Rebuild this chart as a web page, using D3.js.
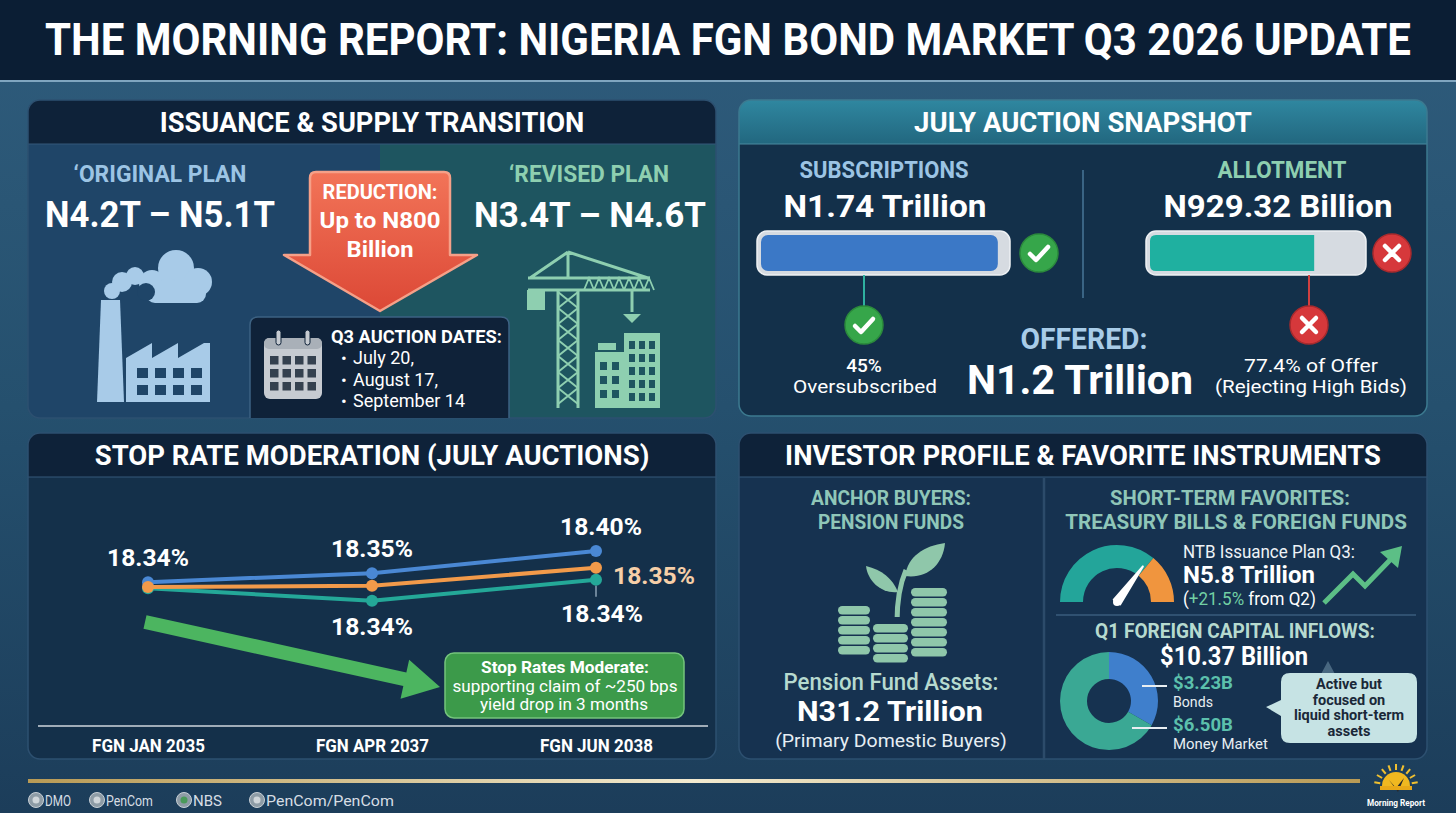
<!DOCTYPE html>
<html>
<head>
<meta charset="utf-8">
<script src="https://cdn.jsdelivr.net/npm/d3@7"></script>
<style>
  body { margin: 0; background: #1e3f5c; }
  svg { display: block; }
</style>
</head>
<body>
<div id="chart"></div>
<script>
// ---- data ----
const bondNames = ['FGN JAN 2035', 'FGN APR 2037', 'FGN JUN 2038'];
const stopRateBlue = [18.348, 18.363, 18.400];
const stopRateOrange = [18.340, 18.342, 18.372];
const stopRateTeal = [18.338, 18.317, 18.352];
const blueLabels = ['18.34%', '18.35%', '18.40%'];
const orangeLabels = ['', '', '18.35%'];
const tealLabels = ['', '18.34%', '18.34%'];

const auctionOffered = 1.2;      // N trillion
const auctionSubscribed = 1.74;  // N trillion
const auctionAllotted = 0.92932; // N trillion
const auctionDates = ['July 20,', 'August 17,', 'September 14'];

const ntbGauge = [0.72, 0.28];
const ntbNeedle = 0.70;
const inflowLabels = ['Bonds', 'Money Market'];
const inflowValues = [3.23, 6.50];
const inflowText = ['$3.23B', '$6.50B'];
const sources = ['DMO', 'PenCom', 'NBS', 'PenCom/PenCom'];

const W = 1456;
const H = 813;
const mint = '#8ecfb0';
const paleBlue = '#a8cbe8';

const svg = d3.select('#chart').append('svg')
  .attr('width', W)
  .attr('height', H)
  .style('font-family', 'Roboto, "Noto Sans", sans-serif');

const defs = svg.append('defs');

function linGrad(id, stops, vertical) {
  const g = defs.append('linearGradient').attr('id', id)
    .attr('x1', 0).attr('y1', 0).attr('x2', vertical ? 0 : 1).attr('y2', vertical ? 1 : 0);
  stops.forEach((s) => g.append('stop').attr('offset', s[0]).attr('stop-color', s[1]));
}
linGrad('bg', [[0, '#2f5c7c'], [0.5, '#25506e'], [1, '#1c3d5a']], true);
linGrad('redArrow', [[0, '#f27458'], [1, '#dc4836']], true);
linGrad('tealHead', [[0, '#2f87a0'], [1, '#22677f']], true);
linGrad('gold', [[0, '#b89a55'], [0.5, '#f2ead0'], [1, '#b89a55']], false);

// squeeze a text to the width measured on the reference (condensed look)
function fit(t, w) {
  const len = t.node().getComputedTextLength();
  if (!len) return t;
  const x0 = +t.attr('x'), y0 = +t.attr('y');
  t.attr('x', 0).attr('y', 0)
    .attr('transform', `translate(${x0},${y0}) scale(${(w / len).toFixed(4)},1)`);
  return t;
}

function txt(g, x, y, s, o) {
  const t = g.append('text')
    .attr('x', x).attr('y', y)
    .attr('font-size', o.size)
    .attr('font-weight', o.weight || 700)
    .attr('fill', o.fill || '#fff')
    .attr('text-anchor', o.anchor || 'middle')
    .text(s);
  if (o.w && s) fit(t, o.w);
  return t;
}

// ---- background + title ----
svg.append('rect').attr('width', W).attr('height', H).attr('fill', 'url(#bg)');
svg.append('rect').attr('width', W).attr('height', 80).attr('fill', '#0b1e34');
svg.append('line').attr('x1', 0).attr('x2', W).attr('y1', 81).attr('y2', 81)
  .attr('stroke', '#9cc0d8').attr('stroke-width', 1.5);
txt(svg, 728, 55, 'THE MORNING REPORT: NIGERIA FGN BOND MARKET Q3 2026 UPDATE', { size: 44, w: 1366 });

// ---- panels ----
let clipN = 0;
function panel(x, y, w, h, title, titleW, headFill, bodyFill, stroke) {
  const id = 'clip' + (clipN++);
  defs.append('clipPath').attr('id', id)
    .append('rect').attr('x', x).attr('y', y).attr('width', w).attr('height', h).attr('rx', 12);
  const g = svg.append('g');
  const inner = g.append('g').attr('clip-path', 'url(#' + id + ')');
  inner.append('rect').attr('x', x).attr('y', y).attr('width', w).attr('height', h).attr('fill', bodyFill);
  inner.append('rect').attr('x', x).attr('y', y).attr('width', w).attr('height', 44).attr('fill', headFill);
  g.append('rect').attr('x', x).attr('y', y).attr('width', w).attr('height', h).attr('rx', 12)
    .attr('fill', 'none').attr('stroke', stroke).attr('stroke-width', 1.5);
  txt(g, x + w / 2, y + 32, title, { size: 28, w: titleW });
  return { g, inner };
}

// ================= ISSUANCE & SUPPLY TRANSITION =================
const p1 = panel(28, 100, 688, 318, 'ISSUANCE & SUPPLY TRANSITION', 425, '#0e2239', '#1f4568', '#2d5070');
p1.inner.append('rect').attr('x', 380).attr('y', 144).attr('width', 336).attr('height', 274).attr('fill', '#1e5560');
p1.inner.append('line').attr('x1', 28).attr('x2', 716).attr('y1', 144).attr('y2', 144).attr('stroke', '#35597a');
const g1 = p1.g;

txt(g1, 160, 182, '\u2018ORIGINAL PLAN', { size: 24, fill: '#9cc4e4', w: 173 });
txt(g1, 160, 227, 'N4.2T \u2013 N5.1T', { size: 36, w: 230 });
txt(g1, 589, 182, '\u2018REVISED PLAN', { size: 24, fill: mint, w: 160 });
txt(g1, 590, 227, 'N3.4T \u2013 N4.6T', { size: 36, w: 232 });

// factory icon
const fac = g1.append('g').attr('fill', paleBlue);
fac.append('path').attr('d', 'M97,402 L101,300 L120,300 L124,402 Z');
fac.append('path').attr('d', 'M126,402 L126,358 L152,343 L152,358 L178,343 L178,358 L204,343 L210,343 L210,402 Z');
[[112, 291, 8], [122, 282, 10], [135, 276, 9]].forEach((c) =>
  fac.append('circle').attr('cx', c[0]).attr('cy', c[1]).attr('r', c[2]));
[[152, 283, 13], [176, 268, 18], [198, 282, 14], [168, 290, 12]].forEach((c) =>
  fac.append('circle').attr('cx', c[0]).attr('cy', c[1]).attr('r', c[2]));
fac.append('rect').attr('x', 146).attr('y', 283).attr('width', 60).attr('height', 20).attr('rx', 9);
g1.append('circle').attr('cx', 146).attr('cy', 292).attr('r', 9).attr('fill', '#1f4568');
for (let i = 0; i < 4; i++) {
  for (let j = 0; j < 2; j++) {
    g1.append('rect').attr('x', 137 + i * 18).attr('y', 368 + j * 17)
      .attr('width', 11).attr('height', 10).attr('fill', '#1f4568');
  }
}

// crane icon
const cr = g1.append('g').attr('stroke', mint).attr('fill', 'none').attr('stroke-width', 3);
cr.append('path').attr('d', 'M558,408 L558,289 M578,408 L578,289');
let brace = '';
for (let y = 292; y < 404; y += 16) brace += `M558,${y} L578,${y + 16} M578,${y} L558,${y + 16} `;
cr.append('path').attr('d', brace).attr('stroke-width', 2);
cr.append('path').attr('d', 'M528,278 L650,278 M528,290 L650,290 M568,252 L530,278 M568,252 L648,278 M568,252 L568,278');
let jib = '';
for (let x = 584; x < 646; x += 10) jib += `M${x},290 L${x + 5},278 L${x + 10},290 `;
cr.append('path').attr('d', jib).attr('stroke-width', 1.8);
cr.append('path').attr('d', 'M632,290 L632,312');
g1.append('rect').attr('x', 527).attr('y', 290).attr('width', 18).attr('height', 20).attr('fill', mint);
g1.append('path').attr('d', 'M623,314 L641,314 L632,323 Z').attr('fill', mint);
g1.append('rect').attr('x', 595).attr('y', 352).attr('width', 31).attr('height', 56).attr('fill', mint);
g1.append('rect').attr('x', 598).attr('y', 343).attr('width', 18).attr('height', 7).attr('fill', mint);
g1.append('rect').attr('x', 624).attr('y', 333).attr('width', 36).attr('height', 75).attr('fill', mint);
for (let i = 0; i < 2; i++) {
  for (let j = 0; j < 3; j++) {
    g1.append('rect').attr('x', 600 + i * 12).attr('y', 362 + j * 14).attr('width', 7).attr('height', 8).attr('fill', '#1e5560');
  }
}
for (let i = 0; i < 3; i++) {
  for (let j = 0; j < 5; j++) {
    g1.append('rect').attr('x', 629 + i * 10).attr('y', 341 + j * 13).attr('width', 6).attr('height', 8).attr('fill', '#1e5560');
  }
}

// red reduction arrow
g1.append('path')
  .attr('d', 'M316,172 L444,172 Q450,172 450,178 L450,255 L477,255 L380,311 L284,255 L310,255 L310,178 Q310,172 316,172 Z')
  .attr('fill', 'url(#redArrow)').attr('stroke', '#f5a088').attr('stroke-width', 2.5).attr('stroke-linejoin', 'round');
txt(g1, 380, 199, 'REDUCTION:', { size: 21, w: 115 });
txt(g1, 380, 228, 'Up to N800', { size: 22, w: 121 });
txt(g1, 380, 257, 'Billion', { size: 22, w: 67 });

// auction dates box
g1.append('path').attr('d', 'M250,418 L250,325 Q250,317 258,317 L501,317 Q509,317 509,325 L509,418')
  .attr('fill', '#0f2239').attr('stroke', '#3d6283').attr('stroke-width', 1.5);
const cal = g1.append('g');
cal.append('rect').attr('x', 264).attr('y', 338).attr('width', 58).attr('height', 61).attr('rx', 6).attr('fill', '#c6cbd1');
cal.append('rect').attr('x', 264).attr('y', 338).attr('width', 58).attr('height', 11).attr('rx', 5).attr('fill', '#a9b0b8');
[276, 305].forEach((x) => cal.append('rect').attr('x', x).attr('y', 330).attr('width', 5).attr('height', 15)
  .attr('rx', 2.5).attr('fill', '#c6cbd1').attr('stroke', '#0f2239').attr('stroke-width', 1));
for (let i = 0; i < 4; i++) {
  for (let j = 0; j < 3; j++) {
    cal.append('rect').attr('x', 270 + i * 12.5).attr('y', 356 + j * 13).attr('width', 8.5).attr('height', 8.5).attr('fill', '#34414f');
  }
}
txt(g1, 331, 343, 'Q3 AUCTION DATES:', { size: 19, anchor: 'start', w: 171 });
auctionDates.forEach((d, i) => {
  txt(g1, 341, 364 + i * 21.5, '\u2022', { size: 17, anchor: 'start', weight: 400 });
  txt(g1, 353, 364 + i * 21.5, d, { size: 18, anchor: 'start', weight: 400 });
});

// ================= JULY AUCTION SNAPSHOT =================
const p2 = panel(739, 100, 688, 316, 'JULY AUCTION SNAPSHOT', 338, 'url(#tealHead)', '#13304a', '#3c7a90');
p2.inner.append('line').attr('x1', 739).attr('x2', 1427).attr('y1', 144).attr('y2', 144).attr('stroke', '#4a8aa0');
const g2 = p2.g;

g2.append('line').attr('x1', 1083).attr('x2', 1083).attr('y1', 170).attr('y2', 298)
  .attr('stroke', '#3a6484').attr('stroke-width', 2);

txt(g2, 884, 178, 'SUBSCRIPTIONS', { size: 23, fill: '#9cc4e4', w: 169 });
txt(g2, 885, 217, 'N1.74 Trillion', { size: 32, w: 203 });
txt(g2, 1282, 178, 'ALLOTMENT', { size: 23, fill: mint, w: 129 });
txt(g2, 1278, 217, 'N929.32 Billion', { size: 32, w: 229 });

const subScale = d3.scaleLinear().domain([0, 1.8]).range([0, 245]);
const allotScale = d3.scaleLinear().domain([0, auctionOffered]).range([0, 212]);

function statusIcon(g, cx, cy, ok) {
  const c = g.append('g').attr('transform', `translate(${cx},${cy})`);
  c.append('circle').attr('r', 19).attr('fill', ok ? '#36a64a' : '#d6383b')
    .attr('stroke', ok ? '#2b8a3c' : '#a82a2d').attr('stroke-width', 1.5);
  c.append('path')
    .attr('d', ok ? 'M-9,1 L-3,7 L9,-6' : 'M-7,-7 L7,7 M7,-7 L-7,7')
    .attr('fill', 'none').attr('stroke', '#fff').attr('stroke-width', 4.5)
    .attr('stroke-linecap', 'round').attr('stroke-linejoin', 'round');
}

// subscription bar
g2.append('rect').attr('x', 757).attr('y', 231).attr('width', 253).attr('height', 44).attr('rx', 10)
  .attr('fill', '#d6dbe1').attr('stroke', '#eef1f4').attr('stroke-width', 1.5);
g2.append('rect').attr('x', 761).attr('y', 235).attr('width', subScale(auctionSubscribed)).attr('height', 36).attr('rx', 7)
  .attr('fill', '#3b78c6');
statusIcon(g2, 1039, 253, true);
g2.append('line').attr('x1', 864).attr('x2', 864).attr('y1', 275).attr('y2', 306).attr('stroke', '#2fb0a0').attr('stroke-width', 2);
statusIcon(g2, 864, 325, true);
txt(g2, 864, 372, '45%', { size: 19, weight: 500 });
txt(g2, 865, 393, 'Oversubscribed', { size: 19, weight: 400, w: 144 });

// allotment bar
g2.append('rect').attr('x', 1146).attr('y', 231).attr('width', 220).attr('height', 44).attr('rx', 10)
  .attr('fill', '#d6dbe1').attr('stroke', '#eef1f4').attr('stroke-width', 1.5);
const allotEnd = 1150 + allotScale(auctionAllotted);
g2.append('path')
  .attr('d', `M1156,235 L${allotEnd},235 L${allotEnd},271 L1156,271 Q1150,271 1150,265 L1150,241 Q1150,235 1156,235 Z`)
  .attr('fill', '#1fb0a0');
statusIcon(g2, 1392, 253, false);
g2.append('line').attr('x1', 1309).attr('x2', 1309).attr('y1', 275).attr('y2', 306).attr('stroke', '#d04040').attr('stroke-width', 2);
statusIcon(g2, 1309, 325, false);
txt(g2, 1311, 372, '77.4% of Offer', { size: 19, weight: 400, w: 134 });
txt(g2, 1311, 393, '(Rejecting High Bids)', { size: 19, weight: 400, w: 192 });

txt(g2, 1084, 349, 'OFFERED:', { size: 29, fill: '#a8cce8', w: 127 });
txt(g2, 1080, 394, 'N1.2 Trillion', { size: 40, w: 226 });

// ================= STOP RATE MODERATION =================
const p3 = panel(28, 433, 688, 326, 'STOP RATE MODERATION (JULY AUCTIONS)', 555, '#0e2239', '#14304a', '#2d5070');
p3.inner.append('line').attr('x1', 28).attr('x2', 716).attr('y1', 477).attr('y2', 477).attr('stroke', '#35597a');
const g3 = p3.g;

const x = d3.scalePoint().domain(bondNames).range([148, 596]);
const y = d3.scaleLinear().domain([18.30, 18.42]).range([611, 539]);

// baseline axis
const xAxis = g3.append('g').attr('transform', 'translate(0,726)')
  .call(d3.axisBottom(x).tickSize(0).tickPadding(14));
xAxis.select('.domain').remove();
g3.append('line').attr('x1', 38).attr('x2', 708).attr('y1', 726).attr('y2', 726)
  .attr('stroke', '#cfd6de').attr('stroke-width', 1.5);
xAxis.selectAll('text')
  .attr('font-size', 19).attr('font-weight', 700).attr('fill', '#fff')
  .attr('font-family', 'Roboto, sans-serif')
  .attr('dy', 12)
  .each(function () {
    const len = this.getComputedTextLength();
    d3.select(this).attr('transform', `scale(${(113 / len).toFixed(4)},1)`);
  });

// green trend arrow
(function () {
  const sx = 145, sy = 622, tx = 440, ty = 687;
  const ang = Math.atan2(ty - sy, tx - sx);
  const ux = Math.cos(ang), uy = Math.sin(ang), nx = -uy, ny = ux;
  const headL = 36, headW = 20, band = 7;
  const bx = tx - ux * headL, by = ty - uy * headL;
  const pts = [
    [sx + nx * band, sy + ny * band], [bx + nx * band, by + ny * band], [bx + nx * headW, by + ny * headW],
    [tx, ty], [bx - nx * headW, by - ny * headW], [bx - nx * band, by - ny * band], [sx - nx * band, sy - ny * band],
  ];
  g3.append('path').attr('d', 'M' + pts.map((p) => p.join(',')).join(' L') + ' Z').attr('fill', '#4cb560');
})();

g3.append('rect').attr('x', 445).attr('y', 653).attr('width', 239).attr('height', 65).attr('rx', 9)
  .attr('fill', '#3c9a4a').attr('stroke', '#74c47c').attr('stroke-width', 1.5);
txt(g3, 565, 673, 'Stop Rates Moderate:', { size: 16, w: 168 });
txt(g3, 565, 692, 'supporting claim of ~250 bps', { size: 17, weight: 400, w: 225 });
txt(g3, 564, 710, 'yield drop in 3 months', { size: 17, weight: 400, w: 168 });

const series = [
  { vals: stopRateBlue, color: '#4a88d4' },
  { vals: stopRateTeal, color: '#24a898' },
  { vals: stopRateOrange, color: '#f29a4a' },
];
const line = d3.line().x((d, i) => x(bondNames[i])).y((d) => y(d));
series.forEach((s) => {
  g3.append('path').datum(s.vals).attr('d', line)
    .attr('fill', 'none').attr('stroke', s.color).attr('stroke-width', 4).attr('stroke-linecap', 'round');
  g3.selectAll(null).data(s.vals).enter().append('circle')
    .attr('cx', (d, i) => x(bondNames[i])).attr('cy', (d) => y(d)).attr('r', 6).attr('fill', s.color);
});

blueLabels.forEach((l, i) => {
  txt(g3, x(bondNames[i]) + (i === 2 ? 5 : 0), y(stopRateBlue[i]) - 16, l, { size: 24, w: 82 });
});
orangeLabels.forEach((l, i) => {
  if (!l) return;
  txt(g3, x(bondNames[i]) + 17, y(stopRateOrange[i]) + 16, l, { size: 24, fill: '#f6cfa8', anchor: 'start', w: 82 });
});
tealLabels.forEach((l, i) => {
  if (!l) return;
  const last = i === tealLabels.length - 1;
  const px = x(bondNames[i]), py = y(stopRateTeal[i]);
  if (last) {
    g3.append('line').attr('x1', px).attr('x2', px).attr('y1', py + 6).attr('y2', py + 17)
      .attr('stroke', '#8aa0b4').attr('stroke-width', 1.5);
  }
  txt(g3, px + (last ? 6 : 0), py + (last ? 42 : 34), l, { size: 24, w: 82 });
});

// ================= INVESTOR PROFILE =================
const p4 = panel(739, 433, 688, 326, 'INVESTOR PROFILE & FAVORITE INSTRUMENTS', 596, '#0e2239', '#163250', '#2d5070');
p4.inner.append('line').attr('x1', 739).attr('x2', 1427).attr('y1', 477).attr('y2', 477).attr('stroke', '#35597a');
const g4 = p4.g;
g4.append('line').attr('x1', 1044).attr('x2', 1044).attr('y1', 478).attr('y2', 759)
  .attr('stroke', '#2c4b6a').attr('stroke-width', 2.5);

txt(g4, 891, 505, 'ANCHOR BUYERS:', { size: 19.5, fill: '#8fc6b8', w: 160 });
txt(g4, 891, 529, 'PENSION FUNDS', { size: 19.5, fill: '#8fc6b8', w: 146 });

// coins + sprout
const coinFill = '#8fc7aa';
function coinStack(x0, w, n, bottom) {
  for (let k = 0; k < n; k++) {
    const cy = bottom - (k + 1) * 10;
    g4.append('rect').attr('x', x0).attr('y', cy).attr('width', w).attr('height', 8.5).attr('rx', 4.2).attr('fill', coinFill);
  }
}
coinStack(838, 32, 5, 656);
coinStack(911, 36, 7, 658);
g4.append('path').attr('d', 'M897,622 C897,602 899,586 906,570').attr('fill', 'none').attr('stroke', coinFill).attr('stroke-width', 5);
g4.append('path').attr('d', 'M905,576 C908,556 924,546 945,543 C943,565 927,579 905,576 Z').attr('fill', coinFill);
g4.append('path').attr('d', 'M898,592 C892,578 882,570 866,566 C868,582 882,594 898,592 Z').attr('fill', coinFill);
g4.append('rect').attr('x', 871).attr('y', 617).attr('width', 39).attr('height', 48).attr('fill', '#163250');
coinStack(873, 35, 4, 664);

txt(g4, 891, 690, 'Pension Fund Assets:', { size: 24, weight: 500, fill: '#b6dacf', w: 215 });
txt(g4, 890, 721, 'N31.2 Trillion', { size: 28, w: 186 });
txt(g4, 891, 747, '(Primary Domestic Buyers)', { size: 19, weight: 400, fill: '#e6eef4', w: 232 });

txt(g4, 1230, 505, 'SHORT-TERM FAVORITES:', { size: 19.5, fill: '#8fc6b8', w: 240 });
txt(g4, 1236, 529, 'TREASURY BILLS & FOREIGN FUNDS', { size: 19.5, fill: '#8fc6b8', w: 342 });

// NTB gauge
const gauge = g4.append('g').attr('transform', 'translate(1117,602)');
const gaugeArcs = d3.pie().sort(null).startAngle(-Math.PI / 2).endAngle(Math.PI / 2)(ntbGauge);
const gaugeArc = d3.arc().innerRadius(34).outerRadius(57);
gauge.selectAll('path').data(gaugeArcs).enter().append('path')
  .attr('d', gaugeArc).attr('fill', (d, i) => (i === 0 ? '#23a59a' : '#f0953e'));
const needleA = -Math.PI / 2 + ntbNeedle * Math.PI;
const nl = 44;
const tipX = Math.sin(needleA) * nl, tipY = -Math.cos(needleA) * nl;
const px = Math.cos(needleA) * 4, py = Math.sin(needleA) * 4;
gauge.append('path')
  .attr('d', `M${-px},${-py} L${tipX},${tipY} L${px},${py} Z`)
  .attr('fill', '#fff').attr('stroke', '#fff').attr('stroke-width', 2).attr('stroke-linejoin', 'round');
gauge.append('circle').attr('r', 4).attr('fill', '#fff');

txt(g4, 1183, 558, 'NTB Issuance Plan Q3:', { size: 18, weight: 400, anchor: 'start', fill: '#eef3f7', w: 172 });
txt(g4, 1183, 583, 'N5.8 Trillion', { size: 24, anchor: 'start', w: 132 });
const chg = txt(g4, 1183, 605, '', { size: 18, weight: 400, anchor: 'start' });
chg.append('tspan').text('(');
chg.append('tspan').attr('fill', '#72d0a4').text('+21.5%');
chg.append('tspan').text(' from Q2)');
fit(chg, 133);

g4.append('path').attr('d', 'M1324,603 L1353,574 L1365,586 L1392,558')
  .attr('fill', 'none').attr('stroke', '#5cbf86').attr('stroke-width', 5).attr('stroke-linejoin', 'miter');
g4.append('path').attr('d', 'M1402,546 L1398,568 L1380,552 Z').attr('fill', '#5cbf86');

g4.append('line').attr('x1', 1056).attr('x2', 1416).attr('y1', 615).attr('y2', 615)
  .attr('stroke', '#3a5c7c').attr('stroke-width', 1.5);

txt(g4, 1235, 638, 'Q1 FOREIGN CAPITAL INFLOWS:', { size: 21, fill: '#b6dacf', w: 280 });
txt(g4, 1234, 665, '$10.37 Billion', { size: 26, w: 148 });

// inflow donut
const donut = g4.append('g').attr('transform', 'translate(1109,701)');
const inflowArcs = d3.pie().sort(null)(inflowValues);
const donutArc = d3.arc().innerRadius(22).outerRadius(49);
donut.selectAll('path').data(inflowArcs).enter().append('path')
  .attr('d', donutArc).attr('fill', (d, i) => (i === 0 ? '#3f7fcc' : '#3aa894'));

const legendY = [689, 731];
inflowLabels.forEach((l, i) => {
  g4.append('line').attr('x1', i === 0 ? 1142 : 1132).attr('x2', 1167)
    .attr('y1', legendY[i] - 3).attr('y2', legendY[i] - 3).attr('stroke', '#e8eef2').attr('stroke-width', 2);
  txt(g4, 1173, legendY[i], inflowText[i], { size: 19, fill: '#5cc0ac', anchor: 'start', w: 60 });
  txt(g4, 1173, legendY[i] + 18, l, { size: 14, weight: 400, anchor: 'start', fill: '#e8eef2', w: i === 0 ? 40 : 95 });
});

// callout
g4.append('path').attr('d', 'M1328,661 L1320,676 L1336,676 Z').attr('fill', '#6a8aa0').attr('opacity', 0.6);
g4.append('path')
  .attr('d', 'M1290,673 L1408,673 Q1417,673 1417,682 L1417,734 Q1417,743 1408,743 L1290,743 Q1281,743 1281,734 L1281,716 L1266,707 L1281,700 L1281,682 Q1281,673 1290,673 Z')
  .attr('fill', '#c6e3e4');
['Active but', 'focused on', 'liquid short-term', 'assets'].forEach((s, i) => {
  txt(g4, 1349, 689 + i * 15.5, s, { size: 14.5, fill: '#1a2838' });
});

// ================= footer =================
svg.append('rect').attr('x', 28).attr('y', 779).attr('width', 1332).attr('height', 4).attr('fill', 'url(#gold)');
const srcX = [36, 97, 184, 257];
const srcW = [26, 47, 29, 128];
sources.forEach((s, i) => {
  const fx = srcX[i];
  svg.append('circle').attr('cx', fx).attr('cy', 800).attr('r', 7.5).attr('fill', '#8e9ca6').attr('stroke', '#c8d0d6');
  svg.append('circle').attr('cx', fx).attr('cy', 800).attr('r', 3.5).attr('fill', i === 2 ? '#4a9a5a' : '#d0d6da');
  txt(svg, fx + 9, 806, s, { size: 15, weight: 400, anchor: 'start', fill: '#d6dde4', w: srcW[i] });
});

// morning report logo
const logo = svg.append('g').attr('transform', 'translate(1396,786)');
logo.append('path').attr('d', 'M-14,0 A14,14 0 0 1 14,0 Z').attr('fill', '#f0b820');
for (let k = 0; k < 9; k++) {
  const a = -Math.PI + (k + 0.5) * Math.PI / 9;
  logo.append('line').attr('x1', Math.cos(a) * 16).attr('y1', Math.sin(a) * 16)
    .attr('x2', Math.cos(a) * 22).attr('y2', Math.sin(a) * 22).attr('stroke', '#f0c030').attr('stroke-width', 2);
}
logo.append('path').attr('d', 'M-7,-6 L0,2 L8,-8 L2,6 Z').attr('fill', '#2a2a2a');
logo.append('rect').attr('x', -16).attr('y', 0).attr('width', 32).attr('height', 4).attr('fill', '#e8a818');
txt(svg, 1396, 806, 'Morning Report', { size: 9, fill: '#fff', w: 58 });
</script>
</body>
</html>
